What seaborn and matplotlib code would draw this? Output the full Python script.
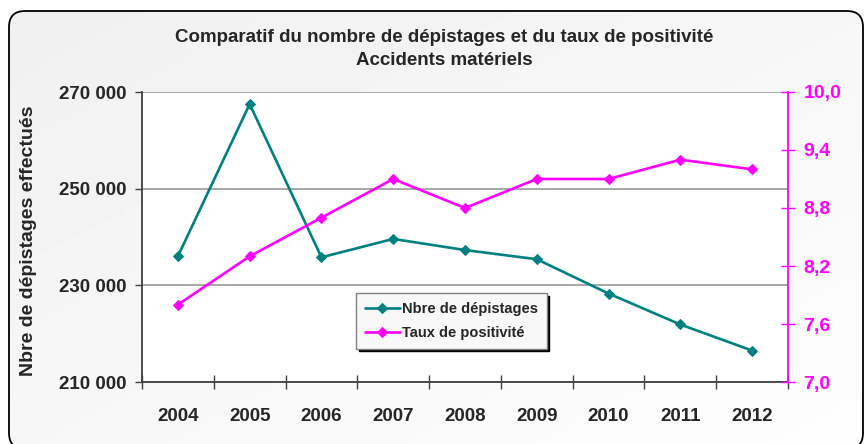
import numpy as np
import pandas as pd
import matplotlib
matplotlib.use('Agg')  # no display in the sandbox
import matplotlib.pyplot as plt
import seaborn as sns
from matplotlib.patches import FancyBboxPatch
from matplotlib.ticker import FixedLocator, FuncFormatter

### DATA ###
years = ['2004', '2005', '2006', '2007', '2008', '2009', '2010', '2011', '2012']
depistages = [236000, 267500, 235800, 239600, 237300, 235400, 228300, 221900, 216500]
positivite = [7.8, 8.3, 8.7, 9.1, 8.8, 9.1, 9.1, 9.3, 9.2]

left_ticks = [210000, 230000, 250000, 270000]
right_ticks = [7.0, 7.6, 8.2, 8.8, 9.4, 10.0]

title = ('Comparatif du nombre de dépistages et du taux de positivité\n'
         'Accidents matériels')
ylabel = 'Nbre de dépistages effectués'
label_dep = 'Nbre de dépistages'
label_pos = 'Taux de positivité'

TEAL = '#008080'
MAGENTA = '#ff00ff'

df = pd.DataFrame({'annee': years, 'depistages': depistages, 'positivite': positivite})

sns.set_theme(style='white')
plt.rcParams['font.family'] = ['Liberation Sans', 'DejaVu Sans']
plt.rcParams['font.weight'] = 'bold'

fig = plt.figure(figsize=(8.64, 4.44), dpi=100)
fig.patch.set_facecolor('white')

### BACKGROUND: rounded frame with soft gradient ###
# pixel coordinates, y measured from the bottom; frame runs past the lower edge
bg = fig.add_axes([0, 0, 1, 1], zorder=-10)
gx, gy = np.meshgrid(np.linspace(0, 1, 200), np.linspace(0, 1, 100))
grad = 0.94 + 0.055 * (0.5 * gx + 0.5 * gy)
im = bg.imshow(grad, cmap='gray', vmin=0, vmax=1, extent=(0, 864, 0, 444),
               origin='upper', aspect='auto')
frame = FancyBboxPatch((9, -5), 854, 438, boxstyle='round,pad=0,rounding_size=16',
                       facecolor='none', edgecolor='black', lw=1.3)
bg.add_patch(frame)
im.set_clip_path(frame)
bg.set_xlim(0, 864)
bg.set_ylim(0, 444)
bg.axis('off')

### MAIN AXES ###
ax = fig.add_axes([142 / 864, 1 - 382 / 444, 646 / 864, 290 / 444])
ax.set_facecolor('white')
sns.lineplot(data=df, x='annee', y='depistages', ax=ax, color=TEAL, lw=1.9,
             marker='D', markersize=5.5, markeredgecolor=TEAL, label=label_dep)
ax.get_legend().remove()

ax.set_ylim(210000, 270000)
ax.set_xlim(-0.5, 8.5)
ax.yaxis.set_major_locator(FixedLocator(left_ticks))
ax.yaxis.set_major_formatter(FuncFormatter(lambda v, p: f'{v:,.0f}'.replace(',', ' ')))
ax.yaxis.grid(True, color='#a0a0a0', lw=1.3)
ax.set_axisbelow(True)

ax.set_xticks(range(len(years)))
ax.set_xticklabels(years)
ax.xaxis.set_minor_locator(FixedLocator(np.arange(-0.5, len(years), 1)))
ax.tick_params(axis='x', which='major', length=0, pad=19, labelsize=13.5)
ax.tick_params(axis='x', which='minor', length=10, width=1, direction='inout',
               color='#404040', bottom=True)
ax.tick_params(axis='y', length=5, width=1, direction='out', color='#404040',
               pad=6, labelsize=13.5, left=True)

for side in ['top', 'right']:
    ax.spines[side].set_visible(False)
for side in ['left', 'bottom']:
    ax.spines[side].set_color('#404040')
    ax.spines[side].set_linewidth(1.3)

ax.set_xlabel('')
ax.set_ylabel(ylabel, fontsize=14, fontweight='bold')
ax.yaxis.set_label_coords(-0.163, 0.486)

### SECONDARY AXIS ###
ax2 = ax.twinx()
sns.lineplot(data=df, x='annee', y='positivite', ax=ax2, color=MAGENTA, lw=1.9,
             marker='D', markersize=5.5, markeredgecolor=MAGENTA, label=label_pos)
ax2.get_legend().remove()
ax2.set_ylim(7.0, 10.0)
ax2.yaxis.set_major_locator(FixedLocator(right_ticks))
ax2.yaxis.set_major_formatter(FuncFormatter(lambda v, p: f'{v:.1f}'.replace('.', ',')))
ax2.tick_params(axis='y', length=10, width=1, direction='inout', color=MAGENTA,
                labelcolor=MAGENTA, pad=6, labelsize=14, right=True)
ax2.set_ylabel('')
for side in ['top', 'left', 'bottom']:
    ax2.spines[side].set_visible(False)
ax2.spines['right'].set_color(MAGENTA)
ax2.spines['right'].set_linewidth(1.3)
ax2.grid(False)

### LEGEND ###
leg = ax2.legend([ax.lines[0], ax2.lines[0]], [label_dep, label_pos],
                 loc='upper left', bbox_to_anchor=(0.331, 0.307), borderaxespad=0,
                 prop={'size': 10.5, 'weight': 'bold'}, handlelength=2.4,
                 fancybox=False, frameon=True, edgecolor='#808080',
                 shadow={'color': 'black', 'alpha': 1.0},
                 borderpad=0.6, labelspacing=0.7, handletextpad=0.15)
leg.get_frame().set_facecolor('#f8f8f8')
leg.set_zorder(10)

### TITLE ###
fig.text(0.514, 1 - 49 / 444, title, ha='center', va='center',
         fontsize=13.5, fontweight='bold', linespacing=1.45)

fig.savefig('out.png', dpi=100)
